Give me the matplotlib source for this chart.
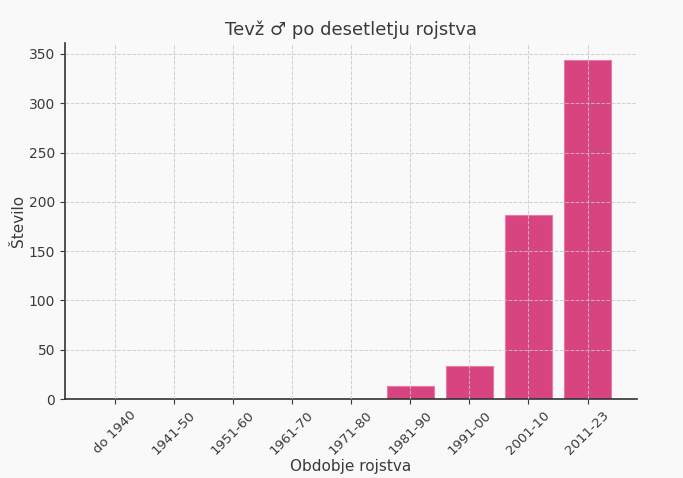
import matplotlib
matplotlib.use("Agg")
import matplotlib.pyplot as plt

categories = ["do 1940", "1941-50", "1951-60", "1961-70", "1971-80",
              "1981-90", "1991-00", "2001-10", "2011-23"]
values = [0, 0, 0, 0, 0, 13, 34, 187, 344]

txt = "#3a3a3a"
bg = "#f9f9f9"

fig = plt.figure(figsize=(6.83, 4.78), dpi=100, facecolor=bg)
ax = fig.add_axes([0.095, 0.165, 0.838, 0.745], facecolor=bg)

ax.bar(range(len(categories)), values, width=0.8, color="#d63e7b",
       edgecolor="#e77aa5", linewidth=0.8, alpha=0.97, zorder=1)
ax.set_axisbelow(False)
ax.grid(True, linestyle="--", color="#c8c8c8", linewidth=0.7, alpha=0.85, zorder=2)

ax.set_xticks(range(len(categories)))
ax.set_xticklabels(categories, rotation=45, color=txt, fontsize=9.5)
ax.set_yticks([0, 50, 100, 150, 200, 250, 300, 350])
ax.tick_params(axis="y", colors=txt, labelsize=10)
ax.tick_params(axis="x", colors=txt)
ax.set_ylim(0, 361)

for s in ["top", "right"]:
    ax.spines[s].set_visible(False)
for s in ["left", "bottom"]:
    ax.spines[s].set_color("#333333")
    ax.spines[s].set_linewidth(1.2)

ax.set_title("Tevž ♂ po desetletju rojstva", color=txt, fontsize=13)
ax.set_xlabel("Obdobje rojstva", color=txt, fontsize=11, labelpad=1)
ax.set_ylabel("Število", color=txt, fontsize=11, labelpad=2)

fig.savefig("out.png", dpi=100, facecolor=bg)
